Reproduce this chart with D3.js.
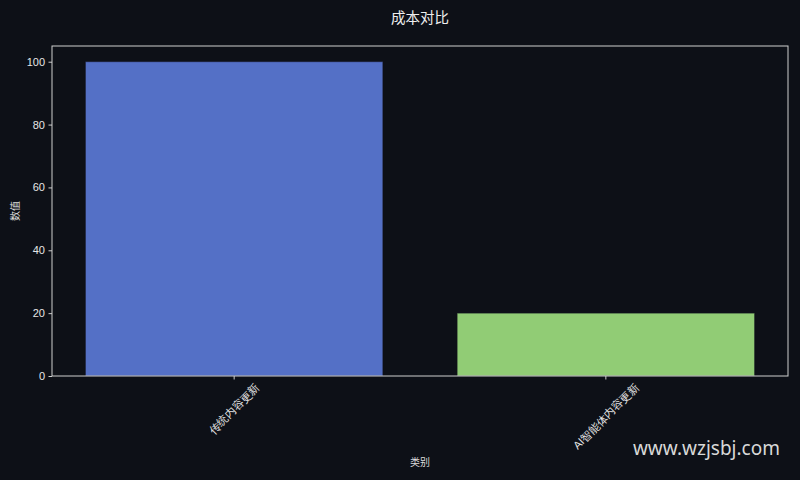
<!DOCTYPE html>
<html>
<head>
<meta charset="utf-8">
<script src="https://cdn.jsdelivr.net/npm/d3@7/dist/d3.min.js"></script>
<style>
  body { margin: 0; background: #0d1017; }
  svg { display: block; font-family: "Liberation Sans", "Noto Sans CJK SC", sans-serif; }
  .axis text { fill: #e6e6e6; font-size: 11px; }
  .axis line, .axis path { stroke: #cfcfcf; }
</style>
</head>
<body>
<div id="chart"></div>
<script>
// data
var categories = ["传统内容更新", "AI智能体内容更新"];
var values = [100, 20];
var colors = ["#5470c6", "#91cc75"];
var yTicks = [0, 20, 40, 60, 80, 100];

var width = 800, height = 480;
var margin = {top: 46, right: 12, bottom: 104, left: 52},
    w = width - margin.left - margin.right,
    h = height - margin.top - margin.bottom;

var svg = d3.select("#chart").append("svg")
    .attr("width", width)
    .attr("height", height);

svg.append("rect")
    .attr("width", width).attr("height", height)
    .attr("fill", "#0d1017");

var g = svg.append("g")
    .attr("transform", "translate(" + margin.left + "," + margin.top + ")");

var x = d3.scaleBand()
    .domain(categories)
    .range([0, w])
    .paddingInner(0.2)
    .paddingOuter(0.09);

var y = d3.scaleLinear()
    .domain([0, 105])
    .range([h, 0]);

// bars
g.selectAll(".bar")
    .data(values)
  .enter().append("rect")
    .attr("class", "bar")
    .attr("x", function(d, i) { return x(categories[i]); })
    .attr("y", function(d) { return y(d); })
    .attr("width", x.bandwidth())
    .attr("height", function(d) { return h - y(d); })
    .attr("fill", function(d, i) { return colors[i]; })
    .attr("stroke", "rgba(20,20,30,0.45)")
    .attr("stroke-width", 1);

// y axis
var yAxis = g.append("g")
    .attr("class", "axis y")
    .call(d3.axisLeft(y).tickValues(yTicks).tickSize(3.5).tickPadding(3.5));
yAxis.select(".domain").remove();

// x axis
var xAxis = g.append("g")
    .attr("class", "axis x")
    .attr("transform", "translate(0," + h + ")")
    .call(d3.axisBottom(x).tickSize(3.5).tickPadding(0));
xAxis.select(".domain").remove();

// rotated tick labels, box centred under the tick like matplotlib does
xAxis.selectAll(".tick text")
    .attr("text-anchor", "middle")
    .attr("dy", "0.35em")
    .attr("y", 0)
    .each(function() {
        var t = d3.select(this);
        var bw = this.getComputedTextLength();
        var off = 5.5 + (bw + 11) / (2 * Math.SQRT2);
        t.attr("transform", "translate(0," + off + ") rotate(-45)");
    });

// frame (spines)
g.append("rect")
    .attr("width", w).attr("height", h)
    .attr("fill", "none")
    .attr("stroke", "#cfcfcf")
    .attr("stroke-width", 1);

// title and axis labels
svg.append("text")
    .attr("x", margin.left + w / 2)
    .attr("y", 23)
    .attr("text-anchor", "middle")
    .attr("fill", "#eeeeee")
    .style("font-size", "14.5px")
    .text("成本对比");

svg.append("text")
    .attr("x", margin.left + w / 2)
    .attr("y", 466)
    .attr("text-anchor", "middle")
    .attr("fill", "#dcdcdc")
    .style("font-size", "10px")
    .text("类别");

svg.append("text")
    .attr("transform", "translate(19," + (margin.top + h / 2) + ") rotate(-90)")
    .attr("text-anchor", "middle")
    .attr("fill", "#dcdcdc")
    .style("font-size", "10px")
    .text("数值");

// watermark
svg.append("text")
    .attr("x", 780)
    .attr("y", 455)
    .attr("text-anchor", "end")
    .attr("fill", "#d8d8d8")
    .style("font-family", "'Noto Sans', sans-serif")
    .style("font-size", "19px")
    .text("www.wzjsbj.com");
</script>
</body>
</html>
